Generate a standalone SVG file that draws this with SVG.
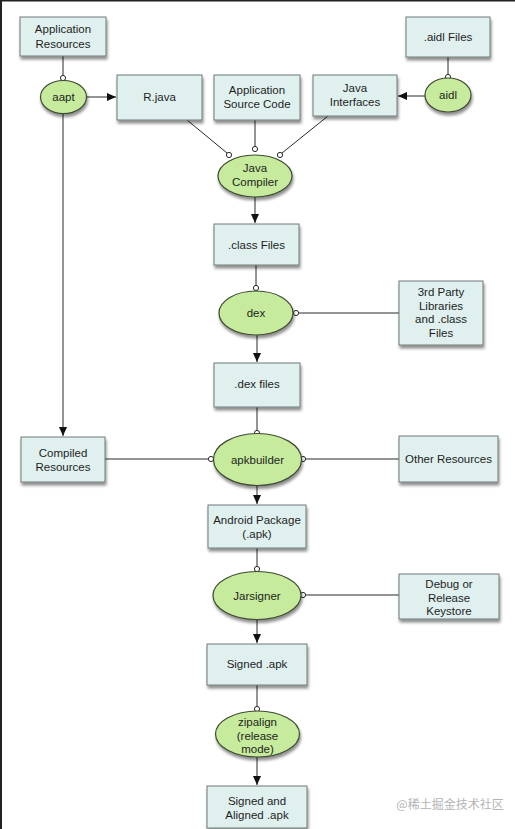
<svg xmlns="http://www.w3.org/2000/svg" width="515" height="829" viewBox="0 0 515 829">
<style>
.box rect{fill:#dff0ee;stroke:#6f7a7a;stroke-width:1;filter:url(#sh)}
.proc ellipse{fill:#c6eb9c;stroke:#3f4a33;stroke-width:1.2;filter:url(#sh)}
text{font-family:"Liberation Sans",Arial,sans-serif;font-size:11.5px;fill:#1e1e1e;text-anchor:middle}
#connectors line,#connectors path{stroke:#2a2a2a;stroke-width:1;fill:none}
.dot{fill:#fff;stroke:#2a2a2a;stroke-width:1}
.arr{marker-end:url(#ah)}
</style>
<defs>
<filter id="sh" x="-20%" y="-20%" width="150%" height="160%">
<feGaussianBlur in="SourceAlpha" stdDeviation="1.6"/>
<feOffset dx="1" dy="3" result="b"/>
<feComponentTransfer><feFuncA type="linear" slope="0.45"/></feComponentTransfer>
<feMerge><feMergeNode/><feMergeNode in="SourceGraphic"/></feMerge>
</filter>
<marker id="ah" markerWidth="10" markerHeight="8" refX="9" refY="4" orient="auto" markerUnits="userSpaceOnUse">
<path d="M0,0 L9,4 L0,8 Z" fill="#111"/>
</marker>
</defs>
<rect x="0" y="0" width="515" height="829" fill="#fff"/>
<rect x="0" y="0" width="515" height="1.5" fill="#222"/>
<rect x="0" y="0" width="2" height="829" fill="#222"/>

<g id="connectors">
<line x1="63" y1="56" x2="63" y2="76"/>
<line class="arr" x1="87" y1="97" x2="116" y2="97"/>
<line class="arr" x1="63" y1="113" x2="63" y2="436"/>
<line x1="448" y1="57" x2="448" y2="75"/>
<line class="arr" x1="425" y1="96" x2="398" y2="96"/>
<line x1="187" y1="120" x2="227" y2="153"/>
<line x1="255" y1="120" x2="255" y2="147"/>
<line x1="328" y1="116" x2="282" y2="153"/>
<line class="arr" x1="255" y1="197" x2="255" y2="223"/>
<line x1="256" y1="265" x2="256" y2="286"/>
<line x1="299" y1="313" x2="399" y2="313"/>
<line class="arr" x1="257" y1="335" x2="257" y2="362"/>
<line x1="257" y1="407" x2="257" y2="431"/>
<line x1="105" y1="459" x2="208" y2="459"/>
<line x1="306" y1="459" x2="399" y2="459"/>
<line class="arr" x1="257" y1="486" x2="257" y2="504"/>
<line x1="257" y1="548" x2="257" y2="567"/>
<line x1="305" y1="595" x2="399" y2="595"/>
<line class="arr" x1="257" y1="619" x2="257" y2="643"/>
<line x1="257" y1="685" x2="257" y2="707"/>
<line class="arr" x1="257" y1="757" x2="257" y2="785"/>
<circle class="dot" cx="63" cy="78" r="2.6"/>
<circle class="dot" cx="448" cy="77" r="2.6"/>
<circle class="dot" cx="229" cy="155" r="2.6"/>
<circle class="dot" cx="255" cy="149" r="2.6"/>
<circle class="dot" cx="280" cy="155" r="2.6"/>
<circle class="dot" cx="256" cy="288" r="2.6"/>
<circle class="dot" cx="296" cy="313" r="2.6"/>
<circle class="dot" cx="257" cy="433" r="2.6"/>
<circle class="dot" cx="211" cy="459" r="2.6"/>
<circle class="dot" cx="303" cy="459" r="2.6"/>
<circle class="dot" cx="257" cy="569" r="2.6"/>
<circle class="dot" cx="303" cy="595" r="2.6"/>
<circle class="dot" cx="257" cy="709" r="2.6"/>
</g>

<g id="app-resources" class="box"><rect x="20" y="17" width="86" height="39"/><text x="63" y="33">Application</text><text x="63" y="48">Resources</text></g>
<g id="aidl-files" class="box"><rect x="406" y="17" width="84" height="40"/><text x="448" y="41">.aidl Files</text></g>
<g id="r-java" class="box"><rect x="117" y="75" width="85" height="45"/><text x="159.5" y="101">R.java</text></g>
<g id="app-source" class="box"><rect x="214" y="75" width="86" height="45"/><text x="257" y="94">Application</text><text x="257" y="108">Source Code</text></g>
<g id="java-interfaces" class="box"><rect x="313" y="75" width="84" height="41"/><text x="355" y="92">Java</text><text x="355" y="106">Interfaces</text></g>
<g id="class-files" class="box"><rect x="214" y="224" width="85" height="41"/><text x="256.5" y="249">.class Files</text></g>
<g id="third-party" class="box"><rect x="399" y="281" width="84" height="64"/><text x="441" y="296">3rd Party</text><text x="441" y="310">Libraries</text><text x="441" y="323">and .class</text><text x="441" y="337">Files</text></g>
<g id="dex-files" class="box"><rect x="214" y="363" width="86" height="44"/><text x="257" y="388">.dex files</text></g>
<g id="compiled-resources" class="box"><rect x="21" y="437" width="84" height="45"/><text x="63" y="457">Compiled</text><text x="63" y="471">Resources</text></g>
<g id="other-resources" class="box"><rect x="399" y="436" width="99" height="46"/><text x="448.5" y="463">Other Resources</text></g>
<g id="android-package" class="box"><rect x="208" y="505" width="98" height="43"/><text x="257" y="524">Android Package</text><text x="257" y="538">(.apk)</text></g>
<g id="keystore" class="box"><rect x="399" y="574" width="100" height="45"/><text x="449" y="588">Debug or</text><text x="449" y="602">Release</text><text x="449" y="615">Keystore</text></g>
<g id="signed-apk" class="box"><rect x="207" y="644" width="100" height="41"/><text x="257" y="668">Signed .apk</text></g>
<g id="signed-aligned" class="box"><rect x="207" y="786" width="100" height="42"/><text x="257" y="805">Signed and</text><text x="257" y="819">Aligned .apk</text></g>

<g id="aapt" class="proc"><ellipse cx="63.5" cy="97" rx="23" ry="16.5"/><text x="63.5" y="101">aapt</text></g>
<g id="aidl" class="proc"><ellipse cx="448" cy="95" rx="23" ry="17"/><text x="448" y="99">aidl</text></g>
<g id="java-compiler" class="proc"><ellipse cx="255" cy="176" rx="37" ry="21"/><text x="255" y="172">Java</text><text x="255" y="186">Compiler</text></g>
<g id="dex" class="proc"><ellipse cx="256" cy="313" rx="37" ry="22"/><text x="256" y="317">dex</text></g>
<g id="apkbuilder" class="proc"><ellipse cx="257.5" cy="459.5" rx="44" ry="26"/><text x="257.5" y="463.5">apkbuilder</text></g>
<g id="jarsigner" class="proc"><ellipse cx="257" cy="595.5" rx="44" ry="24"/><text x="257" y="599.5">Jarsigner</text></g>
<g id="zipalign" class="proc"><ellipse cx="257.5" cy="734" rx="42" ry="23"/><text x="257.5" y="726">zipalign</text><text x="257.5" y="740">(release</text><text x="257.5" y="753">mode)</text></g>

<text x="450" y="809" style="font-family:'Noto Sans CJK SC','Liberation Sans',sans-serif;font-size:12px;fill:#b4b4b4">@稀土掘金技术社区</text>
</svg>
